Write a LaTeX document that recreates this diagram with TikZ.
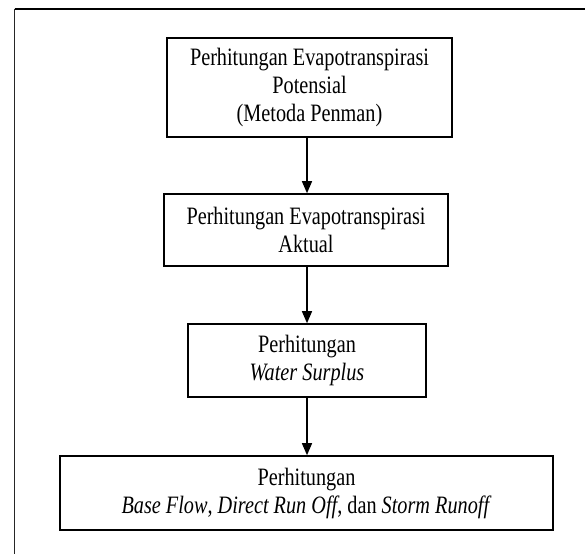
\documentclass[tikz,border=0pt]{standalone}
\usepackage{fontspec}
\setmainfont[FakeStretch=0.81]{Liberation Serif}
\usetikzlibrary{arrows.meta}
\begin{document}
\begin{tikzpicture}[x=1pt,y=-1pt,
  flowbox/.style={draw=black,line width=1.6pt,rectangle,inner sep=0pt,align=center,
    font=\fontsize{25}{28}\selectfont},
  flowarrow/.style={line width=1.4pt,-{Triangle[width=10pt,length=12pt]}},
  framerule/.style={line width=2pt}]
\useasboundingbox (0,0) rectangle (585,554);
\fill[white] (0,0) rectangle (585,554);
% outer frame (only top and left edges are visible)
\draw[line width=2.4pt] (14.5,8.7) -- (585,8.7);
\draw[line width=1.8pt,black!85] (14.5,8.7) -- (14.5,554);
\node[flowbox,minimum width=285pt,minimum height=99pt] (b1) at (309.5,87.5)
  {Perhitungan Evapotranspirasi\\Potensial\\(Metoda Penman)};
\node[flowbox,minimum width=284pt,minimum height=72pt] (b2) at (306,230)
  {Perhitungan Evapotranspirasi\\Aktual};
\node[flowbox,minimum width=238pt,minimum height=73pt] (b3) at (307,360.5)
  {Perhitungan\\\textit{Water Surplus}};
\node[flowbox,minimum width=493pt,minimum height=74pt] (b4) at (306.5,493)
  {Perhitungan\\\textit{Base Flow}, \textit{Direct Run Off}, dan \textit{Storm Runoff}};
\draw[flowarrow] (b1.south -| b3.center) -- (b2.north -| b3.center);
\draw[flowarrow] (b2.south -| b3.center) -- (b3.north);
\draw[flowarrow] (b3.south) -- (b4.north -| b3.center);
\end{tikzpicture}
\end{document}
